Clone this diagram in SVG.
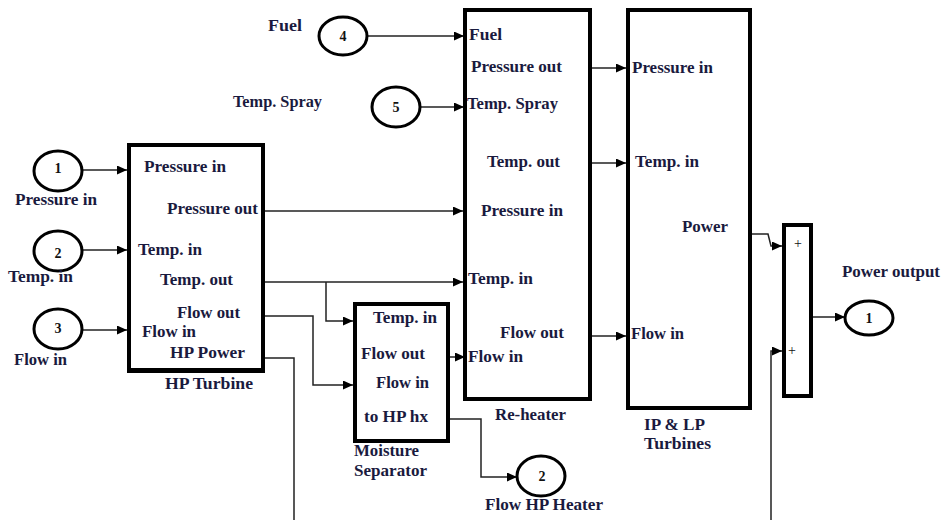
<svg xmlns="http://www.w3.org/2000/svg" width="942" height="520" viewBox="0 0 942 520">
<style>
.t{font-family:"Liberation Serif","Times New Roman",serif;font-weight:bold;font-size:16px;fill:#1a1a3e}
.n{font-family:"Liberation Serif","Times New Roman",serif;font-weight:bold;font-size:14px;fill:#111;text-anchor:middle}
.p{font-family:"Liberation Serif","Times New Roman",serif;font-size:14px;fill:#111}
.blk{fill:#fff;stroke:#000;stroke-width:4}
.port{fill:#fff;stroke:#000;stroke-width:3}
.c{fill:none;stroke:#222;stroke-width:1.5}
</style>
<defs>
<marker id="ah" markerUnits="userSpaceOnUse" markerWidth="11" markerHeight="9" refX="10" refY="4.5" orient="auto">
<path d="M0,0 L10,4.5 L0,9 z" fill="#000"/>
</marker>
</defs>
<rect width="942" height="520" fill="#fff"/>

<g id="connectors">
<path class="c" d="M82,170 H127" marker-end="url(#ah)"/>
<path class="c" d="M82,250 H127" marker-end="url(#ah)"/>
<path class="c" d="M82,330 H127" marker-end="url(#ah)"/>
<path class="c" d="M367,36 H464" marker-end="url(#ah)"/>
<path class="c" d="M420,107 H464" marker-end="url(#ah)"/>
<path class="c" d="M265,211 H463" marker-end="url(#ah)"/>
<path class="c" d="M265,282 H463" marker-end="url(#ah)"/>
<path class="c" d="M326,282 V321 H353" marker-end="url(#ah)"/>
<path class="c" d="M265,316 H313 V385 H353" marker-end="url(#ah)"/>
<path class="c" d="M258,358 H294 V520"/>
<path class="c" d="M450,357 H465" marker-end="url(#ah)"/>
<path class="c" d="M450,419 H481 V477 H517" marker-end="url(#ah)"/>
<path class="c" d="M592,68 H626" marker-end="url(#ah)"/>
<path class="c" d="M592,163 H626" marker-end="url(#ah)"/>
<path class="c" d="M592,336 H626" marker-end="url(#ah)"/>
<path class="c" d="M752,234 H768 L771,246 H782" marker-end="url(#ah)"/>
<path class="c" d="M771,520 V351 H782" marker-end="url(#ah)"/>
<path class="c" d="M813,317 H845" marker-end="url(#ah)"/>
</g>

<g id="in1">
<ellipse class="port" cx="58" cy="171" rx="24" ry="20"/>
<text class="n" x="58" y="173">1</text>
<text class="t" x="15" y="205" textLength="82" lengthAdjust="spacingAndGlyphs">Pressure in</text>
</g>
<g id="in2">
<ellipse class="port" cx="58" cy="251" rx="24" ry="20"/>
<text class="n" x="58" y="258">2</text>
<text class="t" x="8" y="282" textLength="65" lengthAdjust="spacingAndGlyphs">Temp. in</text>
</g>
<g id="in3">
<ellipse class="port" cx="58" cy="329" rx="24" ry="20"/>
<text class="n" x="58" y="333">3</text>
<text class="t" x="14" y="365" textLength="53" lengthAdjust="spacingAndGlyphs">Flow in</text>
</g>
<g id="in4">
<ellipse class="port" cx="343" cy="36" rx="24" ry="19"/>
<text class="n" x="343" y="41">4</text>
<text class="t" x="268" y="31" textLength="34" lengthAdjust="spacingAndGlyphs">Fuel</text>
</g>
<g id="in5">
<ellipse class="port" cx="396" cy="107" rx="24" ry="20"/>
<text class="n" x="396" y="112">5</text>
<text class="t" x="233" y="107" textLength="89" lengthAdjust="spacingAndGlyphs">Temp. Spray</text>
</g>

<g id="hp-turbine">
<rect class="blk" x="129" y="145" width="134" height="225"/>
<line x1="127" y1="371" x2="265" y2="371" stroke="#000" stroke-width="4"/>
<text class="t" x="144" y="172" textLength="82" lengthAdjust="spacingAndGlyphs">Pressure in</text>
<text class="t" x="167" y="214" textLength="91" lengthAdjust="spacingAndGlyphs">Pressure out</text>
<text class="t" x="138" y="255" textLength="64" lengthAdjust="spacingAndGlyphs">Temp. in</text>
<text class="t" x="160" y="285" textLength="73" lengthAdjust="spacingAndGlyphs">Temp. out</text>
<text class="t" x="177" y="318" textLength="63" lengthAdjust="spacingAndGlyphs">Flow out</text>
<text class="t" x="142" y="337" textLength="54" lengthAdjust="spacingAndGlyphs">Flow in</text>
<text class="t" x="170" y="358" textLength="75" lengthAdjust="spacingAndGlyphs">HP Power</text>
<text class="t" x="165" y="389" textLength="88" lengthAdjust="spacingAndGlyphs">HP Turbine</text>
</g>

<g id="moisture-separator">
<rect class="blk" x="355" y="304" width="93" height="137"/>
<text class="t" x="373" y="323" textLength="64" lengthAdjust="spacingAndGlyphs">Temp. in</text>
<text class="t" x="361" y="359" textLength="64" lengthAdjust="spacingAndGlyphs">Flow out</text>
<text class="t" x="376" y="388" textLength="53" lengthAdjust="spacingAndGlyphs">Flow in</text>
<text class="t" x="364" y="422" textLength="64" lengthAdjust="spacingAndGlyphs">to HP hx</text>
<text class="t" x="354" y="456" textLength="65" lengthAdjust="spacingAndGlyphs">Moisture</text>
<text class="t" x="354" y="476" textLength="73" lengthAdjust="spacingAndGlyphs">Separator</text>
</g>

<g id="out2">
<ellipse class="port" cx="541" cy="476" rx="24" ry="20"/>
<text class="n" x="542" y="481">2</text>
<text class="t" x="485" y="510" textLength="118" lengthAdjust="spacingAndGlyphs">Flow HP Heater</text>
</g>

<g id="re-heater">
<rect class="blk" x="465" y="10" width="125" height="389"/>
<text class="t" x="469" y="40" textLength="33" lengthAdjust="spacingAndGlyphs">Fuel</text>
<text class="t" x="471" y="72" textLength="91" lengthAdjust="spacingAndGlyphs">Pressure out</text>
<text class="t" x="467" y="109" textLength="91" lengthAdjust="spacingAndGlyphs">Temp. Spray</text>
<text class="t" x="487" y="167" textLength="73" lengthAdjust="spacingAndGlyphs">Temp. out</text>
<text class="t" x="481" y="216" textLength="82" lengthAdjust="spacingAndGlyphs">Pressure in</text>
<text class="t" x="468" y="284" textLength="65" lengthAdjust="spacingAndGlyphs">Temp. in</text>
<text class="t" x="500" y="338" textLength="64" lengthAdjust="spacingAndGlyphs">Flow out</text>
<text class="t" x="468" y="362" textLength="55" lengthAdjust="spacingAndGlyphs">Flow in</text>
<text class="t" x="495" y="420" textLength="71" lengthAdjust="spacingAndGlyphs">Re-heater</text>
</g>

<g id="ip-lp-turbines">
<rect class="blk" x="628" y="10" width="122" height="398"/>
<text class="t" x="632" y="73" textLength="81" lengthAdjust="spacingAndGlyphs">Pressure in</text>
<text class="t" x="635" y="167" textLength="64" lengthAdjust="spacingAndGlyphs">Temp. in</text>
<text class="t" x="682" y="232" textLength="46" lengthAdjust="spacingAndGlyphs">Power</text>
<text class="t" x="631" y="339" textLength="53" lengthAdjust="spacingAndGlyphs">Flow in</text>
<text class="t" x="644" y="430" textLength="61" lengthAdjust="spacingAndGlyphs">IP &amp; LP</text>
<text class="t" x="644" y="449" textLength="67" lengthAdjust="spacingAndGlyphs">Turbines</text>
</g>

<g id="sum">
<rect class="blk" x="784" y="225" width="27" height="171"/>
<text class="p" x="798" y="248" text-anchor="middle">+</text>
<text class="p" x="792" y="355" text-anchor="middle">+</text>
</g>

<g id="out1">
<ellipse class="port" cx="869" cy="318" rx="24" ry="17"/>
<text class="n" x="869" y="323">1</text>
<text class="t" x="842" y="277" textLength="98" lengthAdjust="spacingAndGlyphs">Power output</text>
</g>
</svg>
